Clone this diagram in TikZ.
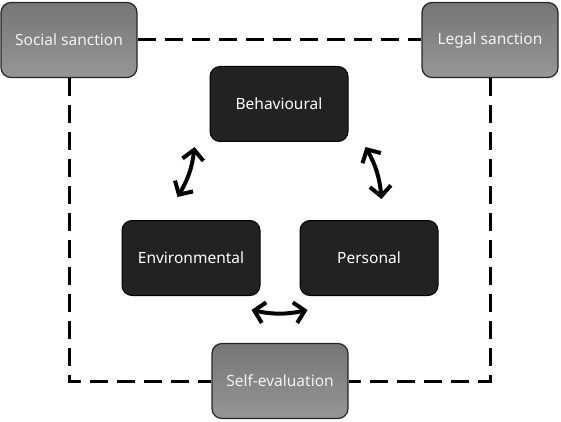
\documentclass[tikz,border=0pt]{standalone}
\usepackage{fontspec}
\setmainfont{Noto Sans}
\usetikzlibrary{arrows.meta,calc}
\definecolor{gtop}{RGB}{118,118,118}
\definecolor{gbot}{RGB}{150,150,150}
\definecolor{dbox}{RGB}{34,34,34}
\tikzset{
  sanction/.style={draw=black!85, line width=1.2pt, rounded corners=10pt, top color=gtop, bottom color=gbot,
    minimum width=136pt, minimum height=75pt, text=white!95!black, font=\fontsize{15.5}{18}\selectfont},
  factor/.style={draw=black, line width=1pt, rounded corners=10pt, fill=dbox,
    minimum width=138pt, minimum height=75pt, text=white, font=\fontsize{15.5}{18}\selectfont},
  dashline/.style={line width=3pt, dash pattern=on 18pt off 9pt},
  dbl/.style={line width=4pt, {Straight Barb[length=10pt,width=21pt]}-{Straight Barb[length=10pt,width=21pt]}}
}
\begin{document}
\begin{tikzpicture}[x=1pt,y=-1pt]
\useasboundingbox (0,0) rectangle (561,422);
\node[sanction] (soc) at (69,40) {Social sanction};
\node[sanction] (leg) at (490,40) {Legal sanction};
\node[sanction] (self) at (280,381) {Self-evaluation};
\node[factor] (beh) at (279,104) {Behavioural};
\node[factor] (env) at (191,258) {Environmental};
\node[factor] (per) at (369,258) {Personal};
\draw[dashline] (soc.east) -- (leg.west);
\draw[dashline] (soc.south) -- (soc.south |- self.west) -- (self.west);
\draw[dashline] (leg.south) -- (leg.south |- self.east) -- (self.east);
\coordinate (a1) at ($(beh.south west)+(-15,5)$);
\coordinate (a2) at ($(env.north west)+(56,-23)$);
\coordinate (b1) at ($(beh.south east)+(17,5)$);
\coordinate (b2) at ($(per.north west)+(82,-21)$);
\coordinate (c1) at ($(env.south east)+(-9,14)$);
\coordinate (c2) at ($(per.south west)+(8,14)$);
\draw[dbl] (a1) to[bend left=12] (a2);
\draw[dbl] (b1) to[bend left=12] (b2);
\draw[dbl] (c1) to[bend right=12] (c2);
\end{tikzpicture}
\end{document}
